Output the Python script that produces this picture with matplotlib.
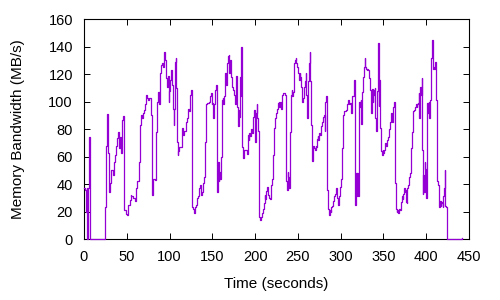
import matplotlib
matplotlib.use('Agg')
import matplotlib.pyplot as plt

plt.rcParams['font.family'] = ['Liberation Sans', 'DejaVu Sans']

# time (s) and memory bandwidth (MB/s)
times = [
    0, 0.8, 2.3, 3.1, 3.9, 4.7, 5.5, 6.2, 6.6, 24.9, 26, 27.3, 28, 28.8, 30.4, 31.9, 33.5,
    34.7, 36.6, 37.8, 39, 40.1, 41.3, 42.5, 43.6, 44.4, 45.6, 46.4, 47.1, 49.1, 50.6,
    51.8, 53.4, 54.9,
    55.5, 57, 59.6, 60.8, 62.4, 63.9, 64.7, 65.9, 66.7, 67.8, 69, 70.2, 71.3, 72.5,
    73.7, 75.2, 76.4, 78, 79.5, 80.3, 81.9, 83, 83.8, 85, 86.1, 86.9, 88.1, 89.3,
    90.4, 91.6, 92.8, 93.9, 94.7, 95.5, 96.7, 97.8, 99, 99.8, 101, 102.1, 103.3,
    104.1, 104.8, 105.6, 106.4, 107.2, 108, 108.7, 109.5, 110.3, 111.5,
    112.5, 114.6, 115.7, 116.9, 118.5, 119.6, 120.8, 122, 122.8, 123.9, 124.7, 125.5,
    126.3, 126.7, 127.8, 129, 130.2, 131.3, 132.5, 133.7, 134.8, 136, 137.2, 138.3,
    139.5, 140.7, 141.9, 143, 144.2, 145.4, 146.5, 147.7, 148.5, 149.3, 150, 150.8,
    151.6, 152.8, 153.9, 155.1, 155.9, 156.7, 157.4, 158.2, 159, 159.8, 160.6, 161.3,
    162.1, 162.9, 163.7, 164.4, 165.2, 166, 166.8, 168, 169.1, 169.9, 170.7, 171.8,
    172.6, 173.8, 175, 176.1, 177.3, 178.1, 179.2, 180, 180.8, 181.6, 182.4, 183.1,
    183.5, 184.3, 185.1, 185.9, 186.6, 187.8, 189, 190.2, 190.9, 191.7, 192.5, 193.3,
    194, 194.8, 195.6, 196.4, 197.2, 197.9, 198.7, 199.5, 200.3, 201.1, 201.8, 202.6,
    203.4, 204.2, 205, 205.7, 206.5, 207.7, 208.9, 210, 211.2, 212, 212.8, 213.9,
    215.1, 215.9, 217, 218.2, 219, 219.8, 220.5, 221.3, 222.1, 223.3,
    224.4, 225.6, 226.8, 227.6, 228.3, 229.1, 229.9, 230.7, 231.5, 232.6, 233.8, 235,
    235.7, 236.5, 237.3, 238.1, 238.9, 239.6, 240.4, 241.2, 242, 242.7, 243.5, 244.3,
    245.1, 245.9, 246.6, 247.4, 248.2, 249, 249.8, 250.5, 251.3, 252.1, 252.9, 253.7,
    254.4, 255.2, 256, 256.8, 257.6, 258.3, 259.1, 259.9, 260.7, 261.5, 262.2, 263,
    263.8, 264.6, 265.3, 266.1, 266.9, 267.7, 268.5, 269.2, 270, 270.8, 271.6, 272.4,
    273.1, 273.9, 274.7, 275.9, 277, 278.2, 279.4,
    280.5, 281.3, 282.1, 282.9, 283.7, 284.4, 285.2, 286, 286.8, 287.6, 288.3, 289.1,
    289.9, 290.7, 291.4, 292.2, 293, 293.8, 294.6, 295.3, 296.1, 296.9, 297.7, 298.5,
    299.6, 300.8, 302, 302.7, 303.9, 305.1, 306.3, 307.4, 308.6, 309.4, 310.1, 310.9,
    311.7, 312.5, 313.3, 314, 315.2, 316, 316.8, 317.2, 317.9, 318.7, 319.5, 320.3,
    321.1, 321.8, 322.6, 323.4, 324.2, 325, 325.7, 326.5, 327.3, 328.1, 328.8, 329.6,
    330.4, 331.2, 332.4, 333.5, 334.3, 335.1, 335.9,
    336.6, 337.4, 338.2, 339, 339.8, 340.5, 341.3, 342.1, 342.9, 343.7, 344, 344.4,
    345.2, 346, 346.8, 347.5, 348.3, 349.1, 349.9, 350.7, 351.4, 352.2, 353, 353.8,
    354.6, 355.3, 356.1, 356.9, 357.7, 358.5, 359.2, 360, 360.8, 361.6, 362.4, 363.1,
    363.9, 364.7, 365.5, 366.2, 367, 367.8, 368.6, 369.4, 370.1, 370.9, 371.7, 372.5,
    373.3, 374, 374.8, 375.6, 376.4, 377.2, 377.9, 378.7, 379.5, 380.3, 381.1, 381.8,
    382.6, 383.4, 384.2, 384.9, 385.7, 386.5, 387.3, 388.1, 388.8, 389.6, 390.4, 391.2, 392,
    392.4, 393.1, 393.9, 394.7, 395.1, 395.9, 396.6, 397.4, 398.2, 399, 399.8, 400.5,
    401.3, 402.1, 402.9, 403.7, 404.4, 405.2, 406, 406.8, 407.5, 408.3, 409.1, 409.9,
    410.7, 411.4, 412.2, 413, 413.8, 414.6, 415.3, 416.1, 416.9, 417.7, 418.4, 419.2,
    420, 420.8, 421.6, 422.3, 423.1, 423.9, 424.3, 441.8, 442,
]
bandwidth = [
    37, 36, 20, 37, 0, 37, 37, 74, 0, 23.5, 68, 91, 62.6, 34.5, 41, 50, 47,
    56, 61, 68, 73.5, 78, 66, 74.5, 62.5, 86.7, 89.6, 46.6, 21, 18, 17.5,
    24.8, 28.4, 32,
    31, 30, 28, 37, 42, 42, 56, 83, 90, 88, 92, 94, 98, 105,
    103, 101, 103, 90, 32, 44, 44, 43, 78, 100, 103, 107, 98, 121,
    127, 128, 125, 136, 130, 117, 111, 119, 100, 108, 116, 123, 112,
    95, 83, 95, 129, 132, 110, 71, 61, 64, 67,
    67, 81, 76, 79, 79, 85, 88, 95, 93, 105, 107, 108.5,
    66, 23.5, 22, 19, 23, 25, 30, 31, 37, 39, 32, 34,
    41, 45, 71, 98, 99, 99, 100, 104, 106, 98, 99, 88,
    98, 108.5, 112, 105, 34.5, 56, 42, 49, 44, 47, 60, 101,
    103, 98, 104, 115, 121, 112, 128, 133, 134, 121, 130, 118,
    111, 108.5, 105, 98, 115, 119, 96, 82, 94, 89, 118, 104,
    140, 77, 67, 59, 65, 65, 65, 64, 62, 76, 72, 77,
    75, 78, 80, 77, 83, 89, 94, 84, 71, 92, 98, 88,
    79, 44, 16, 14, 16, 19, 22, 26, 32, 29, 35, 38,
    32, 30, 29, 31, 39, 44, 54, 61, 81, 88,
    92, 95, 99, 100, 96, 100, 98, 95, 105, 106, 106, 105,
    80, 42, 36, 49, 45, 37, 56, 78, 105, 108.5, 104, 107,
    115, 128, 130, 132, 128, 125.5, 124, 121, 116, 121, 118, 111,
    105, 100, 103, 107, 111, 115, 121, 105, 88, 98, 115, 128,
    136, 115, 83, 68, 57, 68, 68, 66, 65, 68, 67, 73,
    75, 72, 77, 76, 82, 85, 89,
    90, 79, 100, 104, 74, 36, 22, 20, 17.5, 21, 20, 23.5,
    24, 27, 28, 31, 32, 33, 37, 31, 30, 25, 27, 31,
    38, 44, 66, 90, 93, 93, 94, 98, 101, 99, 98, 99,
    98, 91.5, 104, 104, 105, 116, 56, 25, 48, 31, 48, 31,
    88, 100, 96, 101, 84, 107, 113, 118, 125.5, 132, 125.5, 124,
    123, 124, 123, 117, 108.5, 104, 91.5,
    109, 100, 105, 108.5, 110, 88, 79, 99, 108, 116, 142.5, 97,
    116, 81, 79, 64, 61, 65, 63, 65, 66, 70, 68, 71,
    72, 74.5, 78, 80, 85, 89, 91.5, 85, 94, 96, 100, 85,
    41, 22, 20, 21, 19, 20, 22, 21, 25, 27, 31, 29,
    33, 37, 34, 36, 27, 26, 37, 39, 44, 45, 48, 54,
    66, 78, 85, 93, 94, 96, 96, 98, 96, 98, 99, 106, 88,
    107, 111, 105, 117, 65, 33, 47, 34, 56, 51, 30, 73,
    99, 91.5, 100, 88, 101, 117, 132, 145, 134, 124, 125, 124,
    129, 101, 76, 42, 39, 28, 23.5, 28, 24, 27, 26, 23.5,
    31, 37, 50, 24, 23.5, 22, 0, 0, 1,
]

fig = plt.figure(figsize=(5, 3), dpi=100)
ax = fig.add_axes([0.168, 0.203, 0.77, 0.733])

ax.plot(times, bandwidth, color='#9400d3', linewidth=0.9, drawstyle='steps-post',
        clip_on=False, zorder=3)

ax.set_xlim(0, 450)
ax.set_ylim(0, 160)
ax.set_xticks(range(0, 451, 50))
ax.set_yticks(range(0, 161, 20))
ax.tick_params(direction='in', top=True, right=True, length=4, width=0.7,
               labelsize=10.5, pad=8)
for s in ax.spines.values():
    s.set_linewidth(0.8)

ax.set_xlabel('Time (seconds)', fontsize=11, labelpad=9)
ax.set_ylabel('Memory Bandwidth (MB/s)', fontsize=11, labelpad=17)

fig.savefig('out.png', dpi=100)
